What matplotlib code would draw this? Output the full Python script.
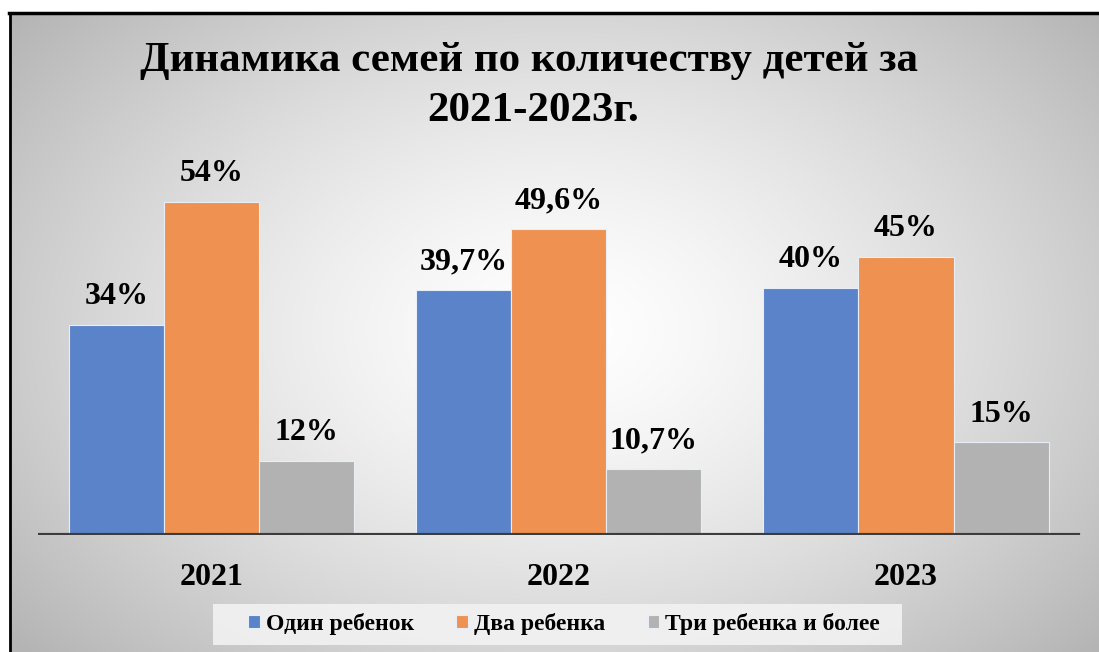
import numpy as np
import matplotlib
matplotlib.use("Agg")
import matplotlib.pyplot as plt
from matplotlib.patches import Rectangle

years = ["2021", "2022", "2023"]
series_names = ["Один ребенок", "Два ребенка", "Три ребенка и более"]
one_child = [34, 39.7, 40]
two_children = [54, 49.6, 45]
three_plus = [12, 10.7, 15]
labels_one = ["34%", "39,7%", "40%"]
labels_two = ["54%", "49,6%", "45%"]
labels_three = ["12%", "10,7%", "15%"]

colors = ["#5b83c9", "#ef9150", "#b2b2b2"]
serif = ["Liberation Serif", "DejaVu Serif"]

W, H = 1099, 652
fig = plt.figure(figsize=(W / 100, H / 100), dpi=100)
fig.patch.set_facecolor("white")

# background radial gradient inside border
bg = fig.add_axes([0, 0, 1, 1])
bg.set_xlim(0, W)
bg.set_ylim(H, 0)
bg.axis("off")
yy, xx = np.mgrid[0:H, 0:W]
cx, cy = 560, 330
r = np.sqrt(((xx - cx) / 620.0) ** 2 + ((yy - cy) / 420.0) ** 2)
val = 1.0 - 0.24 * np.clip(r, 0, 1.15) ** 1.4
img = np.dstack([val, val, val])
bg.imshow(img, extent=[0, W, H, 0], aspect="auto", zorder=0)
bg.add_patch(Rectangle((0, 0), W, 12, color="white", zorder=1))
bg.add_patch(Rectangle((0, 0), 9, H, color="white", zorder=1))
bg.plot([10, 10], [13, H], color="black", lw=2, zorder=2)
bg.plot([9, W], [13, 13], color="black", lw=2.5, zorder=2)
# legend background panel
bg.add_patch(Rectangle((213, 604), 689, 41, facecolor="#f2f2f2",
                       edgecolor="none", alpha=0.9, zorder=1))

# title
bg.text(529, 71, "Динамика семей по количеству детей за", ha="center",
        va="baseline", fontsize=31, fontweight="bold", family=serif, zorder=3)
bg.text(533, 121, "2021-2023г.", ha="center", va="baseline",
        fontsize=31, fontweight="bold", family=serif, zorder=3)

# main axes
ax_left = 38 / W
ax_right = 1083 / W
ax_bottom = (H - 535) / H
ymax = 60
ax_top = (H - (535 - ymax * 6.17)) / H
ax = fig.add_axes([ax_left, ax_bottom, ax_right - ax_left, ax_top - ax_bottom])
ax.patch.set_alpha(0)
ax.set_xlim(-0.5, 2.51)
ax.set_ylim(0, ymax)
for s in ax.spines.values():
    s.set_visible(False)
ax.set_yticks([])

x = np.arange(len(years))
bw = 0.274
data = [one_child, two_children, three_plus]
labs = [labels_one, labels_two, labels_three]
for i, (vals, lb) in enumerate(zip(data, labs)):
    pos = x + (i - 1) * bw
    ax.bar(pos, vals, width=bw, color=colors[i], edgecolor="#e8eef8",
           linewidth=0.8, label=series_names[i], zorder=2)
    for p, v, t in zip(pos, vals, lb):
        ax.annotate(t, (p, v), xytext=(0, 10), textcoords="offset points",
                    ha="center", va="bottom", fontsize=23, fontweight="bold",
                    family=serif)

ax.axhline(0, color="#3c3c3c", lw=3, zorder=3, xmin=0.001, xmax=0.995)
ax.set_xticks(x)
ax.set_xticklabels(years, fontsize=23, fontweight="bold", family=serif)
ax.tick_params(axis="x", length=0, pad=20)

leg = ax.legend(loc="center", bbox_to_anchor=(564 / W, (H - 624) / H),
                bbox_transform=fig.transFigure, ncol=3, frameon=False,
                prop={"family": serif, "weight": "bold", "size": 17},
                handlelength=0.5, handleheight=0.5, handletextpad=0.25,
                columnspacing=1.8, borderpad=0.45)

fig.savefig("out.png", dpi=100)
